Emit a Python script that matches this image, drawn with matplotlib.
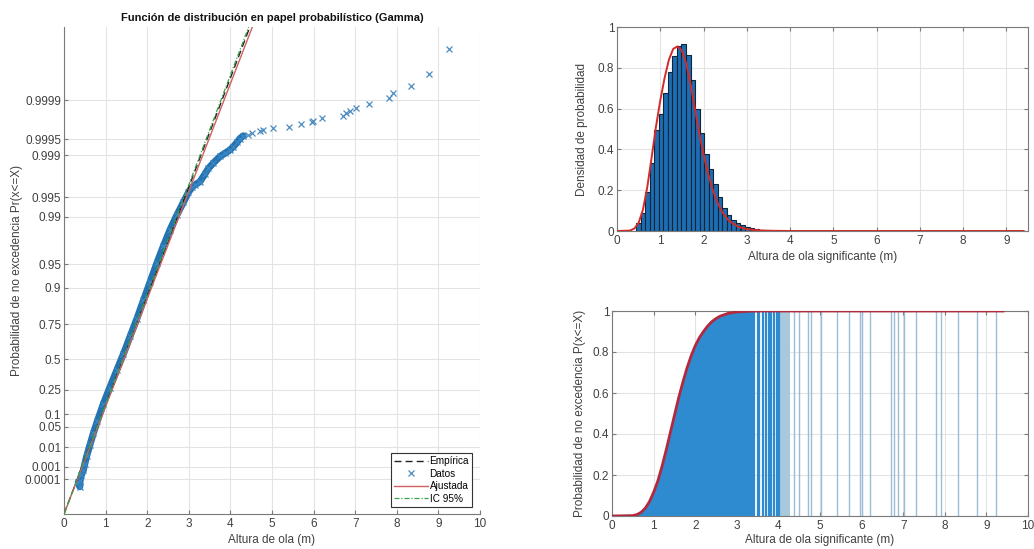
import numpy as np
import matplotlib
matplotlib.use("Agg")
import matplotlib.pyplot as plt

plt.rcParams['font.family'] = ['Liberation Sans', 'DejaVu Sans']

# ---------------- data ----------------
# Left panel: gamma probability paper; y in quantile units (m)
prob_labels = ['0.0001', '0.001', '0.01', '0.05', '0.1', '0.25', '0.5', '0.75',
               '0.9', '0.95', '0.99', '0.995', '0.999', '0.9995', '0.9999']
prob_pos = [0.321, 0.434, 0.612, 0.801, 0.915, 1.138, 1.419, 1.743,
            2.076, 2.291, 2.728, 2.906, 3.291, 3.438, 3.798]

datos_x = [0.34, 0.38, 0.385, 0.42, 0.465, 0.50, 0.545, 0.62, 0.705, 0.80, 0.945,
           1.10, 1.27, 1.43, 1.59, 1.75, 1.91, 2.07, 2.23, 2.39, 2.55, 2.71,
           2.87, 2.99, 3.08, 3.15, 3.27, 3.39, 3.47, 3.59, 3.75, 3.87, 3.99,
           4.07, 4.16, 4.23, 4.31]
datos_u = [0.29, 0.25, 0.30, 0.36, 0.40, 0.46, 0.53, 0.63, 0.74, 0.85, 1.01,
           1.16, 1.32, 1.47, 1.63, 1.79, 1.96, 2.13, 2.30, 2.46, 2.61, 2.74,
           2.86, 2.95, 3.00, 3.02, 3.05, 3.12, 3.17, 3.22, 3.28, 3.31, 3.34,
           3.37, 3.41, 3.445, 3.47]
cola_x = [4.43, 4.53, 4.71, 4.79, 5.03, 5.41, 5.70, 5.97, 5.99, 6.19, 6.71,
          6.79, 6.87, 7.03, 7.32, 7.81, 7.92, 8.33, 8.78, 9.25]
cola_u = [3.477, 3.492, 3.514, 3.523, 3.544, 3.554, 3.575, 3.593, 3.608, 3.630,
          3.651, 3.676, 3.697, 3.728, 3.765, 3.814, 3.860, 3.930, 4.037, 4.263]

empirica_x = [0.0, 4.6]
empirica_u = [0.0, 4.60]
ajustada_x = [0.0, 4.6]
ajustada_u = [0.0, 4.54]
ic95_x = [0.0, 4.6]
ic95_u = [0.0, 4.63]

# Top right: histogram (density) + fitted pdf
hist_left = [0.44, 0.545, 0.65, 0.755, 0.86, 0.965, 1.07, 1.175, 1.28, 1.385,
             1.49, 1.595, 1.70, 1.805, 1.91, 2.015, 2.12, 2.225, 2.33, 2.435,
             2.54, 2.645, 2.75, 2.855, 2.96, 3.065, 3.17, 3.275]
hist_dens = [0.04, 0.088, 0.19, 0.333, 0.497, 0.575, 0.676, 0.78, 0.856, 0.905,
             0.915, 0.861, 0.739, 0.60, 0.48, 0.379, 0.302, 0.232, 0.167, 0.114,
             0.080, 0.056, 0.039, 0.028, 0.020, 0.013, 0.008, 0.005]
bin_width = 0.104

pdf_x = [0.0, 0.30, 0.40, 0.50, 0.60, 0.70, 0.80, 0.90, 1.00, 1.10, 1.20, 1.30,
         1.40, 1.50, 1.60, 1.70, 1.80, 1.90, 2.00, 2.10, 2.20, 2.30, 2.40, 2.50,
         2.60, 2.80, 3.00, 3.30, 3.60, 4.00, 9.40]
pdf_y = [0.0, 0.002, 0.012, 0.040, 0.105, 0.215, 0.36, 0.51, 0.64, 0.75, 0.84,
         0.893, 0.905, 0.885, 0.82, 0.72, 0.60, 0.48, 0.375, 0.285, 0.21, 0.15,
         0.105, 0.072, 0.048, 0.021, 0.009, 0.003, 0.001, 0.0, 0.0]

# Bottom right: CDF
cdf_x = [0.0, 0.5, 0.6, 0.7, 0.8, 0.9, 1.0, 1.1, 1.2, 1.3, 1.4, 1.5, 1.6, 1.7,
         1.8, 1.9, 2.0, 2.1, 2.2, 2.3, 2.4, 2.5, 2.6, 2.8, 3.0, 3.2, 3.3, 3.6,
         4.0, 9.4]
cdf_p = [0.0, 0.002, 0.007, 0.018, 0.038, 0.07, 0.115, 0.17, 0.24, 0.32, 0.405,
         0.49, 0.575, 0.65, 0.72, 0.78, 0.83, 0.87, 0.90, 0.927, 0.948, 0.963,
         0.975, 0.989, 0.995, 0.998, 0.999, 1.0, 1.0, 1.0]
barras_densas_x = [3.21, 3.25, 3.29, 3.35, 3.39, 3.42, 3.50, 3.54, 3.62, 3.70,
                   3.78, 3.82, 3.90, 3.97, 4.00, 4.02]
barras_cola_x = [4.38, 4.50, 4.70, 4.79, 5.02, 5.40, 5.70, 5.97, 6.00, 6.19,
                 6.71, 6.79, 6.87, 7.02, 7.31, 7.80, 7.90, 8.32, 8.77, 9.24]
banda_clara = [4.05, 4.27]

# ---------------- figure ----------------
W, H = 1034, 549
fig = plt.figure(figsize=(W / 100, H / 100), dpi=100)

def px_axes(l, r, t, b):
    return fig.add_axes([l / W, (H - b) / H, (r - l) / W, (b - t) / H])

grid_c = '#e3e3e3'
spine_c = '#7a7a7a'
tick_c = '#404040'
fs = 8.5

def style(ax, box=True):
    ax.grid(True, color=grid_c, linewidth=0.8)
    ax.set_axisbelow(True)
    for s in ax.spines.values():
        s.set_color(spine_c)
        s.set_linewidth(0.8)
    if not box:
        ax.spines['top'].set_visible(False)
        ax.spines['right'].set_visible(False)
    ax.tick_params(direction='in', length=3, color=spine_c, labelcolor=tick_c,
                   labelsize=fs, pad=3, top=box, right=box)
    ax.tick_params(axis='y', pad=2)

# Left panel
ax1 = px_axes(64, 480, 27, 514)
style(ax1, box=False)
ax1.plot(datos_x, datos_u, color='#2472b0', lw=5, solid_capstyle='round', zorder=2)
ax1.plot(datos_x, datos_u, ls='none', marker='x', ms=5, mew=0.9, color='#3a88c6', zorder=2)
ax1.plot(cola_x, cola_u, ls='none', marker='x', ms=5, mew=0.9, color='#4a8cc2', zorder=2)
l1, = ax1.plot(empirica_x, empirica_u, color='#222222', ls=(0, (5, 3)), lw=1.0, zorder=3)
l3, = ax1.plot(ajustada_x, ajustada_u, color='#d06060', lw=1.0, zorder=3)
l4, = ax1.plot(ic95_x, ic95_u, color='#3aa04a', ls=(0, (4, 1.5, 1, 1.5)), lw=0.9, zorder=3)
l2, = ax1.plot([], [], ls='none', marker='x', ms=4, mew=0.9, color='#4a8cc2')
ax1.set_xlim(0, 10)
ax1.set_ylim(0, 4.468)
ax1.set_xticks(range(0, 11))
ax1.set_yticks(prob_pos)
ax1.set_yticklabels(prob_labels)
ax1.set_title('Función de distribución en papel probabilístico (Gamma)',
              fontsize=8, fontweight='bold', pad=4, color='#111111')
ax1.set_xlabel('Altura de ola (m)', fontsize=fs, color=tick_c)
ax1.set_ylabel('Probabilidad de no excedencia Pr(x<=X)', fontsize=fs, color=tick_c)
ax1.xaxis.set_label_coords(0.5, -0.042)
ax1.yaxis.set_label_coords(-0.099, 0.5)
leg = ax1.legend([l1, l2, l3, l4], ['Empírica', 'Datos', 'Ajustada', 'IC 95%'],
                 loc='lower right', bbox_to_anchor=(0.981, 0.0144), borderaxespad=0,
                 fontsize=7.2, fancybox=False, framealpha=1, edgecolor='#333333',
                 handlelength=3.4, handletextpad=0.2, labelspacing=0.25,
                 borderpad=0.3)
leg.get_frame().set_linewidth(0.8)

# Top right: histogram
ax2 = px_axes(617, 1028, 27, 231)
style(ax2)
ax2.bar(hist_left, hist_dens, width=bin_width, align='edge', color='#1c6db3',
        edgecolor='#0f2538', linewidth=0.8, zorder=2)
ax2.plot(pdf_x, pdf_y, color='#d42a2a', lw=1.4, zorder=3)
ax2.set_xlim(0, 9.5)
ax2.set_ylim(0, 1)
ax2.set_xticks(range(0, 10))
ax2.set_yticks([0, 0.2, 0.4, 0.6, 0.8, 1])
ax2.set_yticklabels(['0', '0.2', '0.4', '0.6', '0.8', '1'])
ax2.set_xlabel('Altura de ola significante (m)', fontsize=fs, color=tick_c)
ax2.set_ylabel('Densidad de probabilidad', fontsize=fs, color=tick_c)
ax2.xaxis.set_label_coords(0.5, -0.100)
ax2.yaxis.set_label_coords(-0.070, 0.5)

# Bottom right: CDF
ax3 = px_axes(612, 1028, 311, 516)
style(ax3)
cx = np.array(cdf_x)
cp = np.array(cdf_p)
m = cx <= 3.2
ax3.fill_between(cx[m], 0, cp[m], color='#2e8bcf', linewidth=0, zorder=2)
ax3.bar([banda_clara[0]], [1.0], width=banda_clara[1] - banda_clara[0], align='edge',
        color='#a8c8dc', linewidth=0, zorder=2)
ax3.vlines(barras_densas_x, 0, np.ones(len(barras_densas_x)), color='#2e8bcf',
           lw=1.6, zorder=2)
ax3.vlines(barras_cola_x, 0, np.ones(len(barras_cola_x)), color='#9bbdd5',
           lw=1.0, zorder=2)
ax3.plot(cdf_x, cdf_p, color='#b3283c', lw=2.0, zorder=3)
ax3.set_xlim(0, 10)
ax3.set_ylim(0, 1)
ax3.set_xticks(range(0, 11))
ax3.set_yticks([0, 0.2, 0.4, 0.6, 0.8, 1])
ax3.set_yticklabels(['0', '0.2', '0.4', '0.6', '0.8', '1'])
ax3.set_xlabel('Altura de ola significante (m)', fontsize=fs, color=tick_c)
ax3.set_ylabel('Probabilidad de no excedencia P(x<=X)', fontsize=fs, color=tick_c)
ax3.xaxis.set_label_coords(0.5, -0.090)
ax3.yaxis.set_label_coords(-0.062, 0.5)

fig.savefig('out.png', dpi=100)
